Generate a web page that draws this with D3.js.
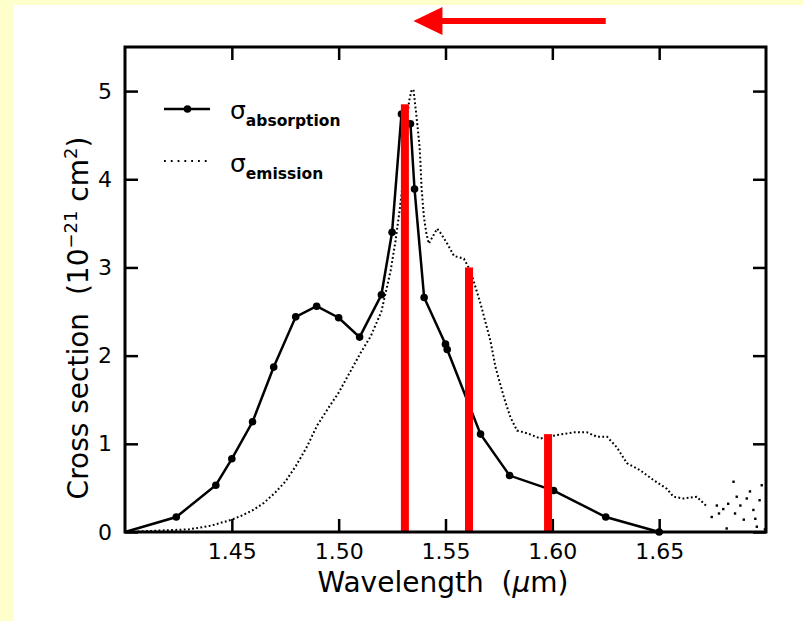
<!DOCTYPE html>
<meta charset="utf-8">
<style>
    body { margin: 0; }
    text { font-family: "DejaVu Sans", sans-serif; fill: #000; }
    .tick line { stroke: #000; stroke-width: 2.5; }
    .tick text { font-size: 22px; }
</style>
<svg width="803" height="621"></svg>

<script src="https://d3js.org/d3.v7.min.js"></script>
<script>
    // absorption cross section (measured points)
    var absWl = [1.400, 1.424, 1.4425, 1.450, 1.4597, 1.4696, 1.4799, 1.4897, 1.500, 1.5098, 1.520, 1.525,
                 1.5294, 1.5336, 1.5355, 1.540, 1.550, 1.5508, 1.5664, 1.580, 1.6006, 1.625, 1.650];
    var absVal = [0.00, 0.17, 0.53, 0.83, 1.25, 1.87, 2.44, 2.56, 2.43, 2.21, 2.69, 3.40,
                  4.74, 4.63, 3.89, 2.66, 2.13, 2.07, 1.11, 0.64, 0.47, 0.17, 0.00];

    // emission cross section (dotted trace)
    var emWl = [1.400, 1.410, 1.420, 1.430, 1.440, 1.450, 1.455, 1.460, 1.465, 1.470, 1.475, 1.480, 1.485,
                1.490, 1.495, 1.500, 1.505, 1.510, 1.515, 1.520, 1.5243, 1.5266, 1.5287, 1.530, 1.532, 1.533,
                1.534, 1.535, 1.5363, 1.537, 1.5379, 1.5383, 1.5388, 1.5399, 1.5411, 1.5422, 1.544, 1.5461,
                1.548, 1.5508, 1.554, 1.5586, 1.5617, 1.5664, 1.571, 1.5734, 1.5773, 1.5804, 1.5835, 1.5882,
                1.5944, 1.6022, 1.610, 1.6162, 1.6209, 1.6256, 1.6302, 1.6349, 1.6411, 1.6473, 1.6536, 1.6567,
                1.6614, 1.6676, 1.6723];
    var emVal = [0.00, 0.01, 0.02, 0.03, 0.07, 0.14, 0.19, 0.25, 0.33, 0.44, 0.57, 0.75, 0.96,
                 1.21, 1.40, 1.58, 1.80, 2.02, 2.22, 2.50, 2.96, 3.30, 3.68, 3.95, 4.70, 4.89,
                 5.00, 5.02, 4.74, 4.58, 4.36, 4.17, 3.90, 3.57, 3.38, 3.27, 3.35, 3.44,
                 3.38, 3.27, 3.13, 3.10, 2.96, 2.59, 2.17, 1.87, 1.53, 1.30, 1.15, 1.12,
                 1.06, 1.10, 1.13, 1.13, 1.08, 1.08, 0.96, 0.78, 0.70, 0.59, 0.49, 0.40,
                 0.38, 0.40, 0.29];
    // noisy tail of the emission trace, single dots
    var tailWl = [1.6746, 1.677, 1.678, 1.6800, 1.6816, 1.6823, 1.6848, 1.6855, 1.6863, 1.6880, 1.6896,
                  1.691, 1.6925, 1.6941, 1.695, 1.6957, 1.697, 1.698, 1.6995];
    var tailVal = [0.17, 0.30, 0.21, 0.26, 0.04, 0.32, 0.57, 0.21, 0.40, 0.30, 0.14,
                   0.38, 0.46, 0.25, 0.15, 0.06, 0.36, 0.53, 0.03];

    // red marker bars
    var barWl = [1.531, 1.561, 1.598];
    var barVal = [4.85, 3.00, 1.11];

    var xTicks = [1.45, 1.50, 1.55, 1.60, 1.65];
    var yTicks = [0, 1, 2, 3, 4, 5];
    var arrowFrom = 1.625, arrowTo = 1.535;

    var svg = d3.select("svg"),
        width = +svg.attr("width"),
        height = +svg.attr("height");

    svg.append("rect").attr("width", width).attr("height", height).attr("fill", "#ffffcc");
    svg.append("rect").attr("x", 14).attr("y", 5).attr("width", width - 14).attr("height", height - 5).attr("fill", "#fff");

    var pLeft = 125, pRight = 766, pTop = 47, pBottom = 532;
    var x = d3.scaleLinear().domain([1.40, 1.70]).range([pLeft, pRight]);
    var y = d3.scaleLinear().domain([0, 5.5]).range([pBottom, pTop]);

    var g = svg.append("g");

    // axes with inside ticks
    g.append("g").attr("transform", "translate(0," + pBottom + ")")
        .call(d3.axisBottom(x).tickValues(xTicks).tickSizeInner(-13).tickSizeOuter(0).tickPadding(11).tickFormat(d3.format(".2f")));
    g.append("g").attr("transform", "translate(0," + pTop + ")")
        .call(d3.axisTop(x).tickValues(xTicks).tickSizeInner(-13).tickSizeOuter(0).tickFormat(""));
    g.append("g").attr("transform", "translate(" + pLeft + ",0)")
        .call(d3.axisLeft(y).tickValues(yTicks).tickSizeInner(-13).tickSizeOuter(0).tickPadding(13).tickFormat(d3.format("d")));
    g.append("g").attr("transform", "translate(" + pRight + ",0)")
        .call(d3.axisRight(y).tickValues(yTicks).tickSizeInner(-13).tickSizeOuter(0).tickFormat(""));
    g.selectAll(".domain").remove();
    g.selectAll(".tick text").attr("font-family", null).attr("font-size", null);

    // emission: dotted trace
    var emData = emWl.map(function(d, i) { return [d, emVal[i]]; });
    var line = d3.line().x(function(d) { return x(d[0]); }).y(function(d) { return y(d[1]); });
    g.append("path")
        .datum(emData)
        .attr("d", line)
        .attr("fill", "none")
        .attr("stroke", "#000")
        .attr("stroke-width", 2)
        .attr("stroke-dasharray", "1.8,2.4");
    g.selectAll(".tail")
        .data(tailWl.map(function(d, i) { return [d, tailVal[i]]; }))
        .enter().append("rect")
        .attr("class", "tail")
        .attr("x", function(d) { return x(d[0]) - 1.2; })
        .attr("y", function(d) { return y(d[1]) - 1.2; })
        .attr("width", 2.4).attr("height", 2.4)
        .attr("fill", "#000");

    // absorption: line + dots
    var absData = absWl.map(function(d, i) { return [d, absVal[i]]; });
    g.append("path")
        .datum(absData)
        .attr("d", line)
        .attr("fill", "none")
        .attr("stroke", "#000")
        .attr("stroke-width", 2.5);
    g.selectAll(".dot")
        .data(absData.filter(function(d) { return d[0] > 1.40; }))
        .enter().append("circle")
        .attr("class", "dot")
        .attr("cx", function(d) { return x(d[0]); })
        .attr("cy", function(d) { return y(d[1]); })
        .attr("r", 3.8)
        .attr("fill", "#000");

    // red bars
    g.selectAll(".bar")
        .data(barWl.map(function(d, i) { return [d, barVal[i]]; }))
        .enter().append("rect")
        .attr("class", "bar")
        .attr("x", function(d) { return x(d[0]) - 4; })
        .attr("y", function(d) { return y(d[1]); })
        .attr("width", 8)
        .attr("height", function(d) { return y(0) - y(d[1]); })
        .attr("fill", "#ff0000");

    // frame
    g.append("rect")
        .attr("x", pLeft).attr("y", pTop)
        .attr("width", pRight - pLeft).attr("height", pBottom - pTop)
        .attr("fill", "none").attr("stroke", "#000").attr("stroke-width", 3);

    // arrow above the plot
    var arrY = 21;
    svg.append("line")
        .attr("x1", x(arrowFrom)).attr("x2", x(arrowTo) + 25)
        .attr("y1", arrY).attr("y2", arrY)
        .attr("stroke", "#ff0000").attr("stroke-width", 6);
    svg.append("path")
        .attr("d", "M" + x(arrowTo) + "," + arrY + "L" + (x(arrowTo) + 29) + "," + (arrY - 14) + "L" + (x(arrowTo) + 29) + "," + (arrY + 14) + "Z")
        .attr("fill", "#ff0000");

    // legend
    var leg = svg.append("g");
    leg.append("line").attr("x1", 164).attr("x2", 210).attr("y1", 109).attr("y2", 109)
        .attr("stroke", "#000").attr("stroke-width", 2.5);
    leg.append("circle").attr("cx", 187.5).attr("cy", 109).attr("r", 3.8).attr("fill", "#000");
    var t1 = leg.append("text").attr("x", 230).attr("y", 119).attr("font-size", 25);
    t1.append("tspan").text("σ");
    t1.append("tspan").attr("dy", 7).attr("font-size", 15.5).attr("font-weight", "bold").text("absorption");

    leg.append("line").attr("x1", 164).attr("x2", 210).attr("y1", 161).attr("y2", 161)
        .attr("stroke", "#000").attr("stroke-width", 2).attr("stroke-dasharray", "1.8,5");
    var t2 = leg.append("text").attr("x", 230).attr("y", 172).attr("font-size", 25);
    t2.append("tspan").text("σ");
    t2.append("tspan").attr("dy", 7).attr("font-size", 15.5).attr("font-weight", "bold").text("emission");

    // axis titles
    var xt = svg.append("text")
        .attr("x", 443).attr("y", 592)
        .attr("text-anchor", "middle")
        .attr("font-size", 28)
        .style("white-space", "pre");
    xt.append("tspan").text("Wavelength  (");
    xt.append("tspan").attr("font-style", "italic").text("μ");
    xt.append("tspan").text("m)");

    var yt = svg.append("text")
        .attr("transform", "translate(88,318) rotate(-90)")
        .attr("text-anchor", "middle")
        .attr("font-size", 28)
        .style("white-space", "pre");
    yt.append("tspan").text("Cross section  (10");
    yt.append("tspan").attr("dy", -11).attr("font-size", 18).text("−21");
    yt.append("tspan").attr("dy", 11).text(" cm");
    yt.append("tspan").attr("dy", -11).attr("font-size", 18).text("2");
    yt.append("tspan").attr("dy", 11).text(")");
</script>
